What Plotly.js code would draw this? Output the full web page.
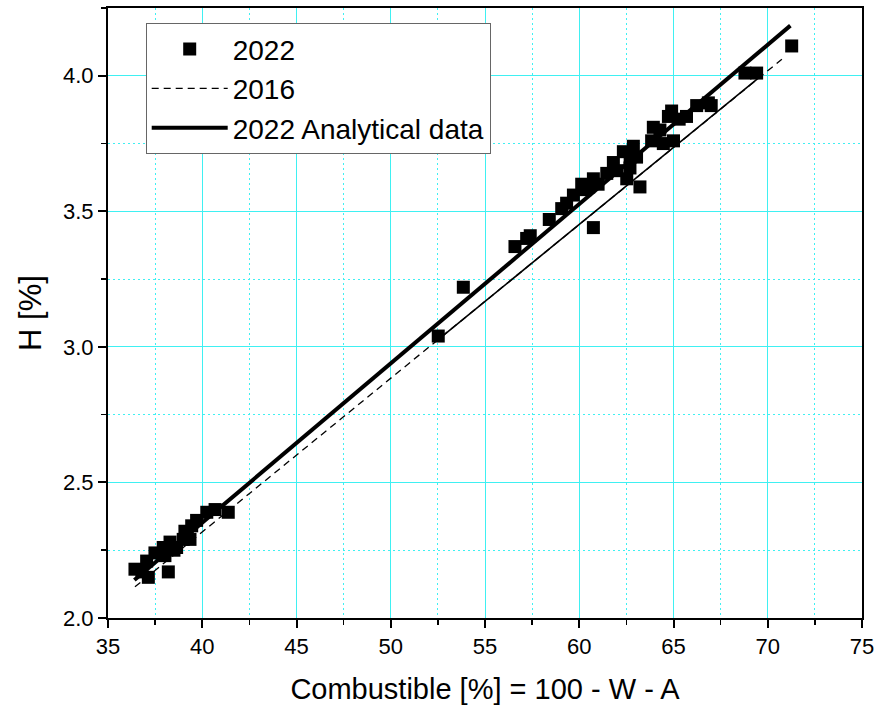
<!DOCTYPE html>
<html>
<head>
<meta charset="utf-8">
<script src="https://cdn.plot.ly/plotly-3.0.1.min.js"></script>
<style>
  html, body { margin: 0; padding: 0; background: #fff; }
  #chart { width: 876px; height: 708px; }
</style>
</head>
<body>
<div id="chart"></div>
<script>
// Measured samples (2022): combustible share vs hydrogen content
const combustible2022 = [
  36.43, 36.80, 37.14, 37.05, 37.49, 37.93, 38.02, 38.20, 38.29, 38.50, 38.64,
  38.99, 39.08, 39.20, 39.35, 39.44, 39.70, 40.24, 40.68, 41.38,
  52.52, 53.85,
  56.59, 57.21, 57.40, 58.41, 59.07, 59.33, 59.69, 60.13, 60.31, 60.50, 60.75,
  60.75, 61.00, 61.46, 61.81, 62.00, 62.34, 62.52, 62.69, 62.70, 62.87, 63.04,
  63.22, 63.84, 63.93, 64.28, 64.46, 64.73, 64.90, 65.00, 65.30, 65.69, 66.23,
  66.85, 67.00, 68.79, 69.41, 71.27
];
const hydrogen2022 = [
  2.18, 2.17, 2.15, 2.21, 2.24, 2.26, 2.23, 2.17, 2.28, 2.25, 2.26,
  2.29, 2.32, 2.30, 2.29, 2.34, 2.36, 2.39, 2.40, 2.39,
  3.04, 3.22,
  3.37, 3.40, 3.41, 3.47, 3.51, 3.53, 3.56, 3.60, 3.58, 3.59, 3.44,
  3.62, 3.60, 3.64, 3.68, 3.65, 3.72, 3.62, 3.66, 3.70, 3.74, 3.70,
  3.59, 3.76, 3.81, 3.80, 3.75, 3.85, 3.87, 3.76, 3.84, 3.85, 3.89,
  3.90, 3.89, 4.01, 4.01, 4.11
];

// Regression line from 2016
const line2016X = [36.43, 70.75];
const line2016Y = [2.115, 4.061];
// Same 2016 relation over the range of the 2022 samples
const line2016RangeX = [52.5, 69.5];
const line2016RangeY = [3.026, 3.991];
// Relation from the 2022 analytical data
const analyticX = [36.4, 71.2];
const analyticY = [2.140, 4.185];

const gridCyan = '#3ff0f2';
const font = 'Arial, "Liberation Sans", sans-serif';

const traces = [
  {
    x: combustible2022, y: hydrogen2022, type: 'scatter', mode: 'markers',
    name: '2022',
    marker: { symbol: 'square', size: 13, color: '#000' }
  },
  {
    x: line2016X, y: line2016Y, type: 'scatter', mode: 'lines',
    name: '2016',
    line: { color: '#000', width: 1.3, dash: '7px,5px' }
  },
  {
    x: line2016RangeX, y: line2016RangeY, type: 'scatter', mode: 'lines',
    name: '2016 range', showlegend: false,
    line: { color: '#000', width: 1.6 }
  },
  {
    x: analyticX, y: analyticY, type: 'scatter', mode: 'lines',
    name: '2022 Analytical data',
    line: { color: '#000', width: 4 }
  }
];

const axisCommon = {
  showline: true, linecolor: '#000', linewidth: 2, mirror: true,
  ticks: 'outside', ticklen: 8, tickwidth: 2, tickcolor: '#000',
  showgrid: true, gridcolor: gridCyan, gridwidth: 1,
  zeroline: false,
  tickfont: { family: font, size: 22, color: '#000' }
};

const minorGrid = {
  ticks: 'outside', ticklen: 5, tickwidth: 1.5, tickcolor: '#000',
  showgrid: true, gridcolor: gridCyan, gridwidth: 1.2, griddash: '2px,3px'
};

const layout = {
  width: 876, height: 708,
  margin: { l: 108, r: 14, t: 8, b: 90 },
  paper_bgcolor: '#fff', plot_bgcolor: '#fff',
  font: { family: font, color: '#000' },
  showlegend: true,
  legend: {
    x: 0.05, y: 0.975, xanchor: 'left', yanchor: 'top',
    bgcolor: '#fff', bordercolor: '#666', borderwidth: 1,
    font: { family: font, size: 28, color: '#000' },
    itemwidth: 76, tracegroupgap: 0
  },
  xaxis: Object.assign({}, axisCommon, {
    range: [35, 75], dtick: 5, tick0: 35,
    minor: Object.assign({ dtick: 2.5 }, minorGrid),
    title: { text: 'Combustible [%] = 100 - W - A', font: { family: font, size: 29, color: '#000' }, standoff: 20 }
  }),
  yaxis: Object.assign({}, axisCommon, {
    range: [2.0, 4.25], dtick: 0.5, tick0: 2.0, tickformat: '.1f',
    minor: Object.assign({ dtick: 0.25 }, minorGrid),
    title: { text: 'H [%]', font: { family: font, size: 31, color: '#000' }, standoff: 12 }
  })
};

Plotly.newPlot('chart', traces, layout, { displayModeBar: false, staticPlot: true });
</script>
</body>
</html>
